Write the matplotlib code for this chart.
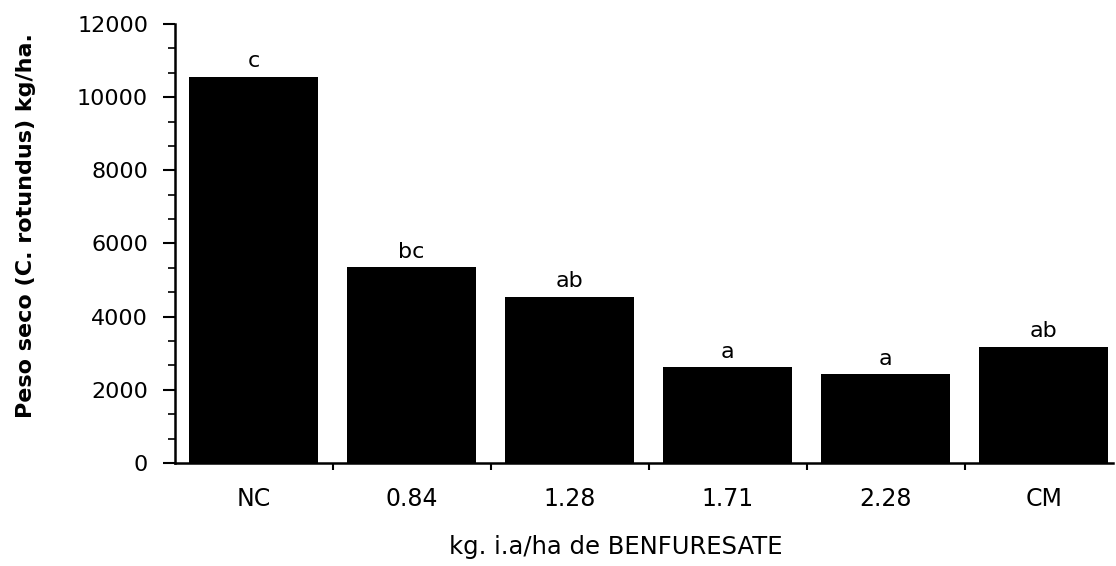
import matplotlib
matplotlib.use("Agg")
import matplotlib.pyplot as plt
from matplotlib.ticker import MultipleLocator, AutoMinorLocator, FixedLocator

categories = ["NC", "0.84", "1.28", "1.71", "2.28", "CM"]
peso_seco = [10550, 5350, 4540, 2620, 2430, 3170]
letras = ["c", "bc", "ab", "a", "a", "ab"]

plt.rcParams["font.family"] = ["DejaVu Sans"]

fig = plt.figure(figsize=(11.16, 5.66), dpi=100)
ax = fig.add_axes([0.1564, 0.182, 0.841, 0.7756])

x = range(len(categories))
ax.bar(x, peso_seco, width=0.82, color="black")

for i, (v, l) in enumerate(zip(peso_seco, letras)):
    ax.annotate(l, (i, v), xytext=(0, 4), textcoords="offset points",
                ha="center", va="bottom", fontsize=16)

ax.set_xlim(-0.5, 5.44)
ax.set_ylim(0, 12000)
ax.yaxis.set_major_locator(MultipleLocator(2000))
ax.yaxis.set_minor_locator(AutoMinorLocator(3))

ax.set_xticks(list(x))
ax.set_xticklabels(categories, fontsize=17)
ax.xaxis.set_minor_locator(FixedLocator([i + 0.5 for i in range(5)]))
ax.tick_params(axis="x", which="major", length=0, pad=17)
ax.tick_params(axis="x", which="minor", length=5, width=1.5)
ax.tick_params(axis="y", which="major", length=9, width=1.5, labelsize=16, pad=10)
ax.tick_params(axis="y", which="minor", length=5, width=1.2)

for s in ["top", "right"]:
    ax.spines[s].set_visible(False)
for s in ["left", "bottom"]:
    ax.spines[s].set_linewidth(1.8)

ax.set_ylabel("Peso seco (C. rotundus) kg/ha.", fontsize=16, fontweight="bold")
ax.yaxis.set_label_coords(-0.148, 0.54)
ax.set_xlabel("kg. i.a/ha de BENFURESATE", fontsize=17.5)
ax.xaxis.set_label_coords(0.47, -0.165)

fig.savefig("out.png", dpi=100)
